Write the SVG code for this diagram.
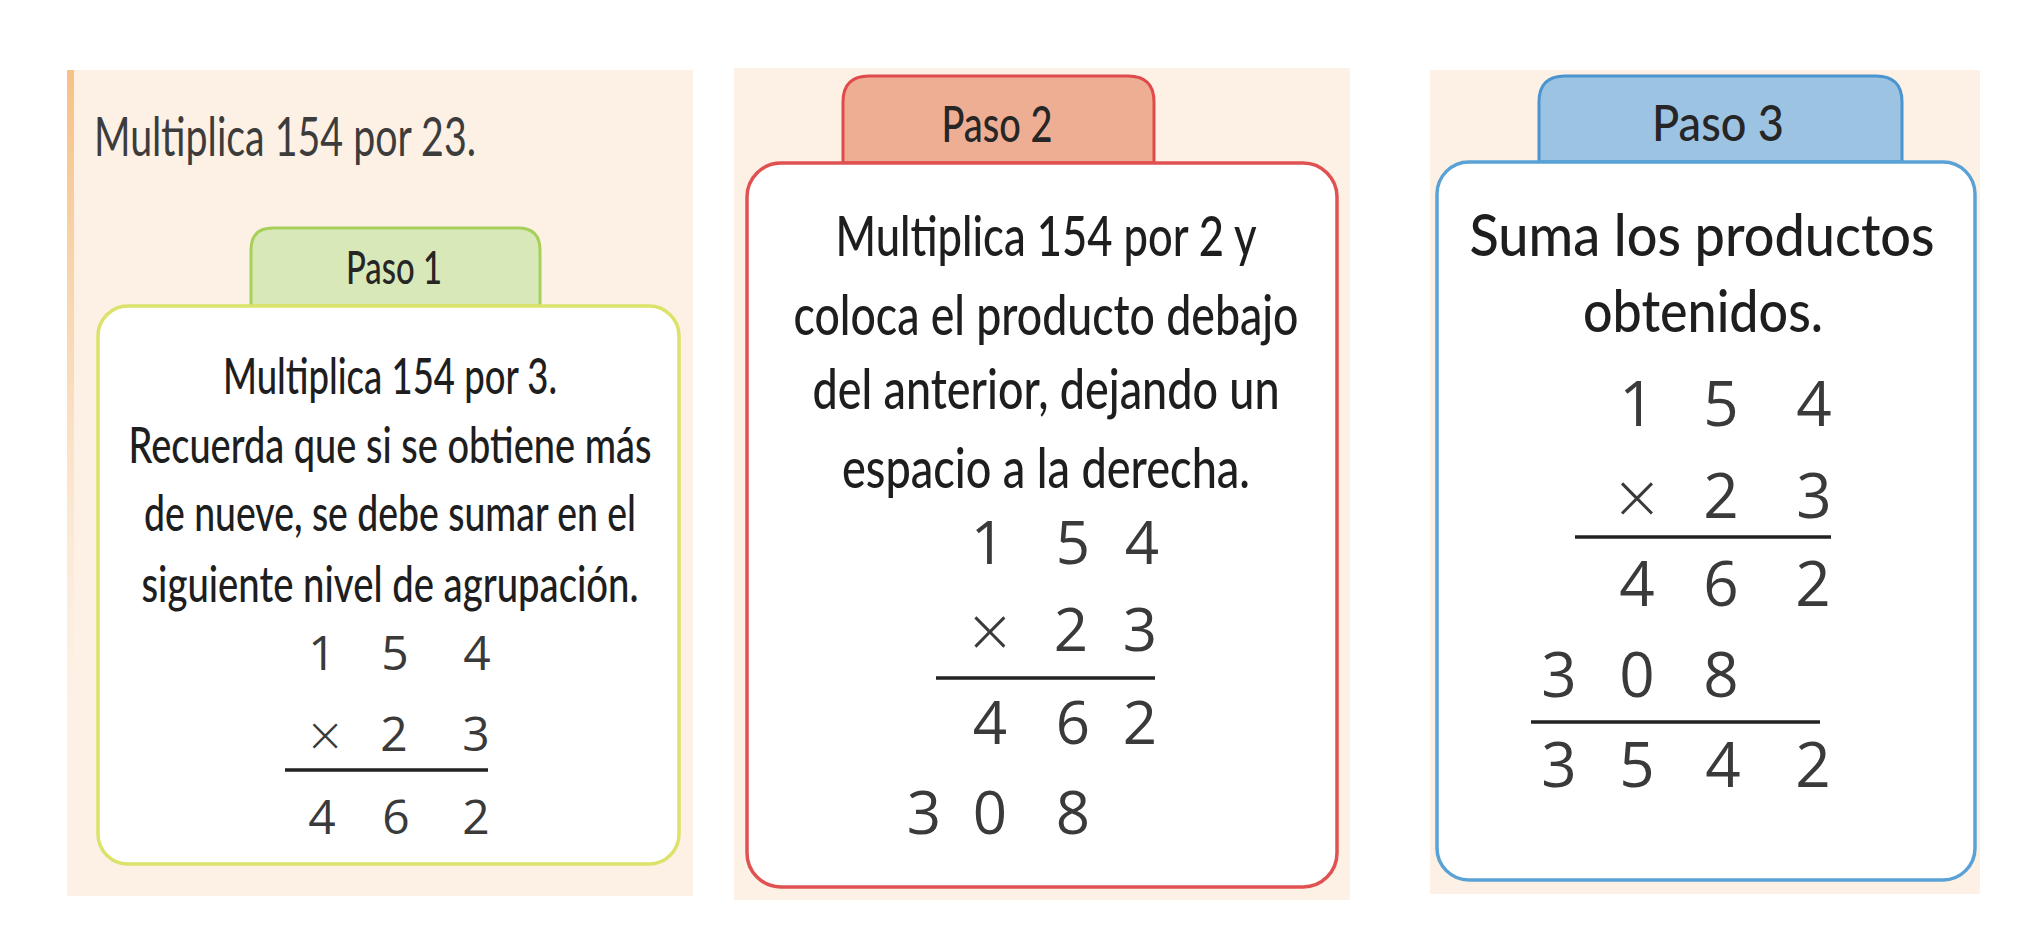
<svg xmlns="http://www.w3.org/2000/svg" width="2044" height="926" viewBox="0 0 2044 926">
<defs>
<linearGradient id="stripe" x1="0" y1="0" x2="0" y2="1">
<stop offset="0" stop-color="#f6c186" stop-opacity="1"/>
<stop offset="0.5" stop-color="#f8cfa0" stop-opacity="0.6"/>
<stop offset="1" stop-color="#fbe0c4" stop-opacity="0"/>
</linearGradient>
<style>
.bg{fill:#fdf0e4}
.box{fill:#fff;stroke-width:3.5}
.tab{stroke-width:3}
.txt{font-family:Lato,"Open Sans","Liberation Sans",sans-serif;fill:#1e1e1e;text-anchor:middle;font-weight:500}
.tabt{font-family:Lato,"Open Sans","Liberation Sans",sans-serif;fill:#262626;text-anchor:middle;font-weight:500}
.dig{font-family:"Open Sans","Liberation Sans",sans-serif;fill:#3a3a3a;text-anchor:middle;font-weight:400}
.times{font-family:"DejaVu Sans","Liberation Sans",sans-serif;font-weight:300}
.rule{stroke:#222;stroke-width:3.5}
</style>
</defs>
<rect width="2044" height="926" fill="#fff"/>

<g id="panel1">
<rect class="bg" x="67" y="70" width="626" height="826"/>
<rect x="67" y="70" width="7" height="620" fill="url(#stripe)"/>
<text x="94" y="156" font-family="Lato,'Open Sans','Liberation Sans',sans-serif" font-size="54" font-weight="400" fill="#3c3c3c" textLength="382" lengthAdjust="spacingAndGlyphs">Multiplica 154 por 23.</text>
<path class="tab" d="M251,306 V250 Q251,228 273,228 H518 Q540,228 540,250 V306 Z" fill="#d9e8b8" stroke="#a6d05a"/>
<text class="tabt" x="394" y="284" font-size="46" textLength="96" lengthAdjust="spacingAndGlyphs">Paso 1</text>
<rect class="box" x="98" y="306" width="581" height="558" rx="30" stroke="#dbe36a"/>
<text class="txt" x="390" y="394" font-size="50" textLength="334" lengthAdjust="spacingAndGlyphs">Multiplica 154 por 3.</text>
<text class="txt" x="390" y="463" font-size="50" textLength="523" lengthAdjust="spacingAndGlyphs">Recuerda que si se obtiene más</text>
<text class="txt" x="390" y="531" font-size="50" textLength="492" lengthAdjust="spacingAndGlyphs">de nueve, se debe sumar en el</text>
<text class="txt" x="390" y="602" font-size="50" textLength="497" lengthAdjust="spacingAndGlyphs">siguiente nivel de agrupación.</text>
<g class="dig" font-size="48">
<text x="322" y="670">1</text><text x="395" y="670">5</text><text x="477" y="670">4</text>
<text class="times" x="325" y="751">×</text><text x="394" y="751">2</text><text x="476" y="751">3</text>
<text x="322" y="834">4</text><text x="396" y="834">6</text><text x="476" y="834">2</text>
</g>
<line class="rule" x1="285" y1="770" x2="488" y2="770"/>
</g>

<g id="panel2">
<rect class="bg" x="734" y="68" width="616" height="832"/>
<path class="tab" d="M843,163 V102 Q843,76 869,76 H1128 Q1154,76 1154,102 V163 Z" fill="#eeae94" stroke="#e04a4a"/>
<text class="tabt" x="997" y="142" font-size="50" textLength="111" lengthAdjust="spacingAndGlyphs">Paso 2</text>
<rect class="box" x="747" y="163" width="590" height="724" rx="34" stroke="#e05252"/>
<text class="txt" x="1046" y="256" font-size="56" textLength="421" lengthAdjust="spacingAndGlyphs">Multiplica 154 por 2 y</text>
<text class="txt" x="1046" y="335" font-size="56" textLength="505" lengthAdjust="spacingAndGlyphs">coloca el producto debajo</text>
<text class="txt" x="1046" y="409" font-size="56" textLength="467" lengthAdjust="spacingAndGlyphs">del anterior, dejando un</text>
<text class="txt" x="1046" y="488" font-size="56" textLength="408" lengthAdjust="spacingAndGlyphs">espacio a la derecha.</text>
<g class="dig" font-size="60">
<text x="988" y="564">1</text><text x="1073" y="564">5</text><text x="1142" y="564">4</text>
<text class="times" x="990" y="651">×</text><text x="1071" y="651">2</text><text x="1140" y="651">3</text>
<text x="990" y="744">4</text><text x="1073" y="744">6</text><text x="1140" y="744">2</text>
<text x="924" y="834">3</text><text x="990" y="834">0</text><text x="1073" y="834">8</text>
</g>
<line class="rule" x1="936" y1="678" x2="1155" y2="678"/>
</g>

<g id="panel3">
<rect class="bg" x="1430" y="70" width="550" height="824"/>
<path class="tab" d="M1539,162 V102 Q1539,76 1565,76 H1876 Q1902,76 1902,102 V162 Z" fill="#9dc3e3" stroke="#4a94d0"/>
<text class="tabt" x="1718" y="141" font-size="50" textLength="132" lengthAdjust="spacingAndGlyphs">Paso 3</text>
<rect class="box" x="1437" y="162" width="538" height="718" rx="32" stroke="#5aa2d6"/>
<text class="txt" x="1702" y="256" font-size="58" textLength="465" lengthAdjust="spacingAndGlyphs">Suma los productos</text>
<text class="txt" x="1703" y="332" font-size="58" textLength="240" lengthAdjust="spacingAndGlyphs">obtenidos.</text>
<g class="dig" font-size="62">
<text x="1637" y="426">1</text><text x="1721" y="426">5</text><text x="1814" y="426">4</text>
<text class="times" x="1637" y="518">×</text><text x="1721" y="518">2</text><text x="1814" y="518">3</text>
<text x="1637" y="606">4</text><text x="1721" y="606">6</text><text x="1813" y="606">2</text>
<text x="1559" y="697">3</text><text x="1637" y="697">0</text><text x="1721" y="697">8</text>
<text x="1559" y="787">3</text><text x="1637" y="787">5</text><text x="1723" y="787">4</text><text x="1813" y="787">2</text>
</g>
<line class="rule" x1="1575" y1="537" x2="1831" y2="537"/>
<line class="rule" x1="1531" y1="722" x2="1820" y2="722"/>
</g>

<g id="connectors"/>
</svg>
